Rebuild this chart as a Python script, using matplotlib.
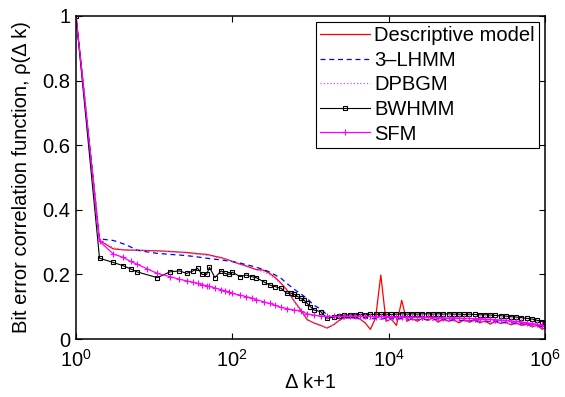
# Bit error correlation function vs. lag for several error models.

import matplotlib.pyplot as plt

plt.rcParams['font.family'] = ['Liberation Sans', 'DejaVu Sans']

# lag values (delta k + 1)
xHead = [1, 2, 3, 4, 5, 6, 8, 11, 16, 21, 26, 31, 36, 41, 47, 51, 60, 72,
         81, 91, 100, 126, 151, 177, 203, 252, 302, 355, 420, 500, 610, 750,
         910, 1100, 1350, 1630]
xTail = [2000, 2330, 2710, 3160, 3690, 4300, 5010, 5840, 6810, 7940, 9260,
         10800, 12600, 14700, 17100, 20000, 23300, 27100, 31600, 36900,
         43000, 50100, 58400, 68100, 79400, 92600, 108000, 126000, 147000,
         171000, 200000, 233000, 271000, 316000, 369000, 430000, 501000,
         584000, 681000, 794000, 926000, 1000000]
xBwHead = [1, 2, 3, 4, 5, 6, 11, 16, 21, 26, 31, 36, 41, 47, 51, 60, 72, 81,
           91, 100, 126, 151, 177, 203, 252, 302, 355, 420, 500, 560, 610,
           680, 750, 830, 910, 1000, 1100, 1350, 1630]

descHead = [1, 0.305, 0.279, 0.276, 0.275, 0.275, 0.274, 0.273, 0.271, 0.269,
            0.268, 0.266, 0.264, 0.263, 0.262, 0.26, 0.256, 0.252, 0.248,
            0.244, 0.24, 0.232, 0.226, 0.22, 0.215, 0.213, 0.203, 0.19,
            0.173, 0.152, 0.12, 0.09, 0.06, 0.05, 0.042, 0.034]
descTail = [0.045, 0.058, 0.066, 0.066, 0.065, 0.062, 0.05, 0.03, 0.065,
            0.198, 0.055, 0.062, 0.042, 0.12, 0.055, 0.063, 0.055, 0.064,
            0.058, 0.065, 0.052, 0.062, 0.055, 0.06, 0.05, 0.06, 0.052, 0.058,
            0.05, 0.056, 0.046, 0.055, 0.048, 0.052, 0.044, 0.05, 0.042,
            0.046, 0.038, 0.042, 0.03, 0.035]

lhmmHead = [1, 0.31, 0.305, 0.295, 0.285, 0.275, 0.27, 0.265, 0.262, 0.26,
            0.258, 0.256, 0.254, 0.252, 0.25, 0.249, 0.247, 0.245, 0.243,
            0.241, 0.24, 0.235, 0.23, 0.226, 0.222, 0.215, 0.207, 0.198,
            0.188, 0.172, 0.155, 0.14, 0.125, 0.105, 0.093, 0.075]
lhmmTail = [0.064, 0.064, 0.065, 0.066, 0.065, 0.064, 0.065, 0.063, 0.064,
            0.062, 0.064, 0.063, 0.062, 0.063, 0.061, 0.062, 0.06, 0.062,
            0.06, 0.061, 0.059, 0.06, 0.058, 0.059, 0.057, 0.058, 0.056,
            0.057, 0.055, 0.056, 0.054, 0.054, 0.052, 0.052, 0.05, 0.049,
            0.047, 0.046, 0.044, 0.042, 0.038, 0.036]

dpbgmHead = [1, 0.306, 0.282, 0.277, 0.275, 0.274, 0.273, 0.272, 0.27,
             0.268, 0.266, 0.264, 0.262, 0.261, 0.259, 0.258, 0.254, 0.25,
             0.247, 0.243, 0.239, 0.231, 0.225, 0.219, 0.214, 0.208, 0.198,
             0.186, 0.17, 0.15, 0.118, 0.086, 0.058, 0.05, 0.043, 0.034]
dpbgmTail = [0.045, 0.056, 0.063, 0.064, 0.063, 0.062, 0.063, 0.061, 0.062,
             0.061, 0.062, 0.06, 0.061, 0.06, 0.061, 0.059, 0.06, 0.058,
             0.059, 0.057, 0.058, 0.056, 0.057, 0.055, 0.056, 0.054, 0.055,
             0.053, 0.054, 0.052, 0.052, 0.05, 0.05, 0.048, 0.047, 0.045,
             0.044, 0.042, 0.04, 0.038, 0.035, 0.034]

bwHead = [1, 0.25, 0.237, 0.227, 0.217, 0.208, 0.19, 0.208, 0.211, 0.203,
          0.21, 0.219, 0.2, 0.2, 0.222, 0.19, 0.211, 0.203, 0.2, 0.207,
          0.193, 0.198, 0.193, 0.19, 0.177, 0.167, 0.162, 0.157, 0.141,
          0.142, 0.139, 0.132, 0.126, 0.12, 0.11, 0.1, 0.09, 0.085, 0.064]
bwTail = [0.068, 0.072, 0.074, 0.075, 0.075, 0.076, 0.075, 0.076, 0.077,
          0.076, 0.077, 0.076, 0.077, 0.078, 0.077, 0.078, 0.077, 0.078,
          0.078, 0.077, 0.078, 0.077, 0.078, 0.077, 0.077, 0.076, 0.077,
          0.076, 0.075, 0.075, 0.074, 0.073, 0.072, 0.071, 0.069, 0.068,
          0.066, 0.064, 0.062, 0.058, 0.054, 0.05]

sfmHead = [1, 0.303, 0.263, 0.253, 0.24, 0.232, 0.218, 0.203, 0.193, 0.185,
           0.18, 0.176, 0.172, 0.168, 0.165, 0.163, 0.158, 0.153, 0.149,
           0.146, 0.141, 0.136, 0.131, 0.127, 0.122, 0.115, 0.11, 0.104,
           0.098, 0.094, 0.09, 0.087, 0.078, 0.074, 0.071, 0.07]
sfmTail = [0.07, 0.07, 0.071, 0.07, 0.071, 0.07, 0.07, 0.07, 0.069, 0.07,
           0.069, 0.069, 0.068, 0.069, 0.068, 0.068, 0.067, 0.068, 0.067,
           0.067, 0.066, 0.066, 0.065, 0.066, 0.065, 0.064, 0.064, 0.063,
           0.063, 0.062, 0.061, 0.06, 0.059, 0.058, 0.056, 0.055, 0.053,
           0.051, 0.048, 0.046, 0.042, 0.04]

labels = ['Descriptive model', '3\u2013LHMM', 'DPBGM', 'BWHMM', 'SFM']

fig = plt.figure(figsize=(5.65, 3.97), dpi=100)
ax = fig.add_axes([0.1345, 0.146, 0.83, 0.814])

ax.plot(xHead + xTail, descHead + descTail, color='r', lw=0.9,
        label=labels[0])
ax.plot(xHead + xTail, lhmmHead + lhmmTail, color='b', lw=0.9,
        linestyle=(0, (4, 3)), label=labels[1])
ax.plot(xHead + xTail, dpbgmHead + dpbgmTail, color='#b060ff', lw=0.9,
        linestyle=':', label=labels[2])
ax.plot(xBwHead + xTail, bwHead + bwTail, color='k', lw=0.8, marker='s',
        markersize=3, mfc='none', mew=0.8, label=labels[3])
ax.plot(xHead + xTail, sfmHead + sfmTail, color='magenta', lw=0.9,
        marker='+', markersize=4, mew=0.8, label=labels[4])

ax.set_xscale('log')
ax.set_xlim(1, 1e6)
ax.set_ylim(0, 1)
ax.set_xticks([1, 1e2, 1e4, 1e6])
ax.set_xticks([], minor=True)
ax.set_yticks([0, 0.2, 0.4, 0.6, 0.8, 1])
ax.set_yticklabels(['0', '0.2', '0.4', '0.6', '0.8', '1'])
ax.tick_params(direction='in', top=True, right=True, labelsize=14.5,
               length=4, width=0.8)
ax.tick_params(axis='x', pad=7)
ax.tick_params(axis='y', pad=4)
for sp in ax.spines.values():
    sp.set_linewidth(1.1)

ax.set_xlabel('\u0394 k+1', fontsize=14.5, labelpad=2)
ax.set_ylabel('Bit error correlation function, \u03c1(\u0394 k)',
              fontsize=14.5, labelpad=8)

leg = ax.legend(loc='upper right', fontsize=14.5, frameon=True,
                fancybox=False, edgecolor='k', framealpha=1,
                labelspacing=0.28, handlelength=2.5, handletextpad=0.2,
                borderpad=0.2, borderaxespad=0.3)
leg.get_frame().set_linewidth(0.8)

fig.savefig('out.png', dpi=100)
